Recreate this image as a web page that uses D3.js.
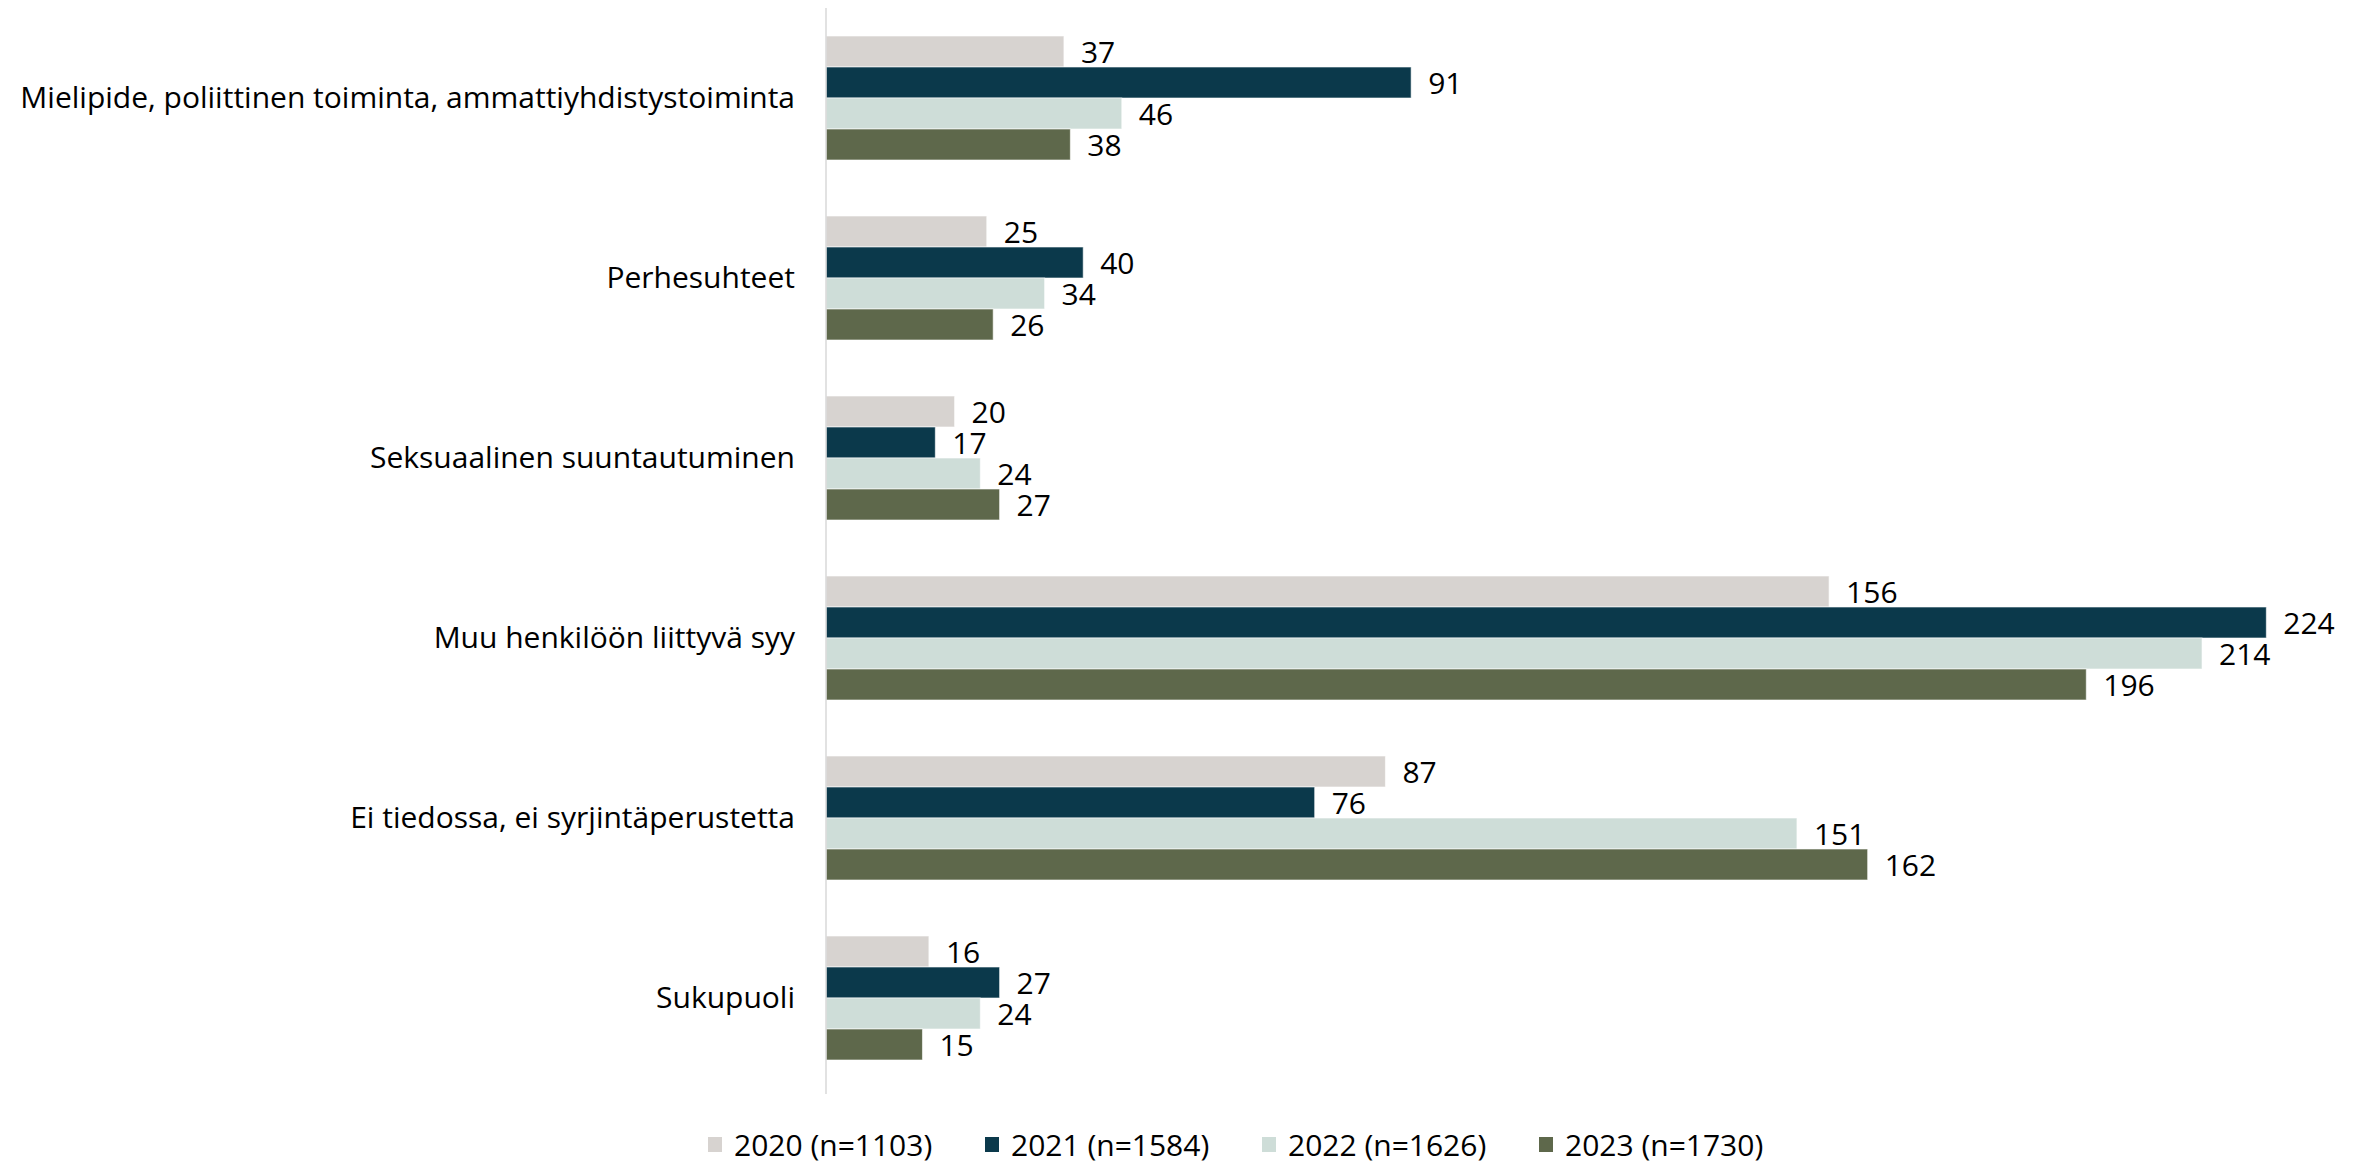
<!DOCTYPE html>
<html>
<head>
<meta charset="utf-8">
<script src="https://cdn.jsdelivr.net/npm/d3@7"></script>
<style>
  html, body { margin: 0; padding: 0; background: #ffffff; }
  svg { display: block; }
  text { font-family: "Open Sans", "Noto Sans", sans-serif; fill: #000000; }
</style>
</head>
<body>
<svg id="chart" width="2361" height="1164"></svg>
<script>
const categories = [
  "Mielipide, poliittinen toiminta, ammattiyhdistystoiminta",
  "Perhesuhteet",
  "Seksuaalinen suuntautuminen",
  "Muu henkilöön liittyvä syy",
  "Ei tiedossa, ei syrjintäperustetta",
  "Sukupuoli"
];
const seriesNames = ["2020 (n=1103)", "2021 (n=1584)", "2022 (n=1626)", "2023 (n=1730)"];
const values2020 = [37, 25, 20, 156, 87, 16];
const values2021 = [91, 40, 17, 224, 76, 27];
const values2022 = [46, 34, 24, 214, 151, 24];
const values2023 = [38, 26, 27, 196, 162, 15];
const seriesColors = ["#D7D3D0", "#0B394B", "#CEDDD8", "#5E684B"];

const seriesValues = [values2020, values2021, values2022, values2023];

const svg = d3.select("#chart");
const fontSize = 30;

const x = d3.scaleLinear().domain([0, 240]).range([826, 826 + 240 * 6.43]);
const y = d3.scaleBand().domain(categories).range([8, 1088]).paddingInner(0).paddingOuter(0);
const bandH = y.bandwidth();
const barH = 31;
const yInner = d3.scaleBand().domain(d3.range(seriesNames.length))
  .range([(bandH - barH * 4) / 2, (bandH + barH * 4) / 2]);

// bars
const groups = svg.selectAll("g.cat")
  .data(categories)
  .join("g")
  .attr("class", "cat")
  .attr("transform", d => `translate(0,${y(d)})`);

groups.each(function(cat, ci) {
  const g = d3.select(this);
  const rows = seriesValues.map((vals, si) => ({ si, v: vals[ci] }));
  g.selectAll("rect")
    .data(rows)
    .join("rect")
    .attr("x", x(0))
    .attr("y", d => yInner(d.si))
    .attr("width", d => x(d.v) - x(0))
    .attr("height", yInner.bandwidth())
    .attr("fill", d => seriesColors[d.si])
    .attr("stroke", "#ffffff")
    .attr("stroke-opacity", 0.6)
    .attr("stroke-width", 1);
  g.selectAll("text.val")
    .data(rows)
    .join("text")
    .attr("class", "val")
    .attr("x", d => x(d.v) + 17)
    .attr("y", d => yInner(d.si) + yInner.bandwidth() / 2)
    .attr("dominant-baseline", "central")
    .attr("font-size", fontSize)
    .text(d => d.v);
});

// category axis
const yAxis = d3.axisLeft(y).tickSize(0).tickPadding(31);
const axisG = svg.append("g")
  .attr("transform", `translate(${x(0)},0)`)
  .call(yAxis);
axisG.select(".domain")
  .attr("d", `M0,8V1094`)
  .attr("stroke", "#D9D9D9").attr("stroke-width", 1.5);
axisG.selectAll(".tick text")
  .attr("font-size", fontSize)
  .attr("fill", "#000")
  .style("font-family", "'Open Sans', 'Noto Sans', sans-serif");

// legend
const legendX = d3.scaleLinear().domain([0, 1]).range([708, 985]);
const legend = svg.append("g").selectAll("g")
  .data(seriesNames)
  .join("g")
  .attr("transform", (d, i) => `translate(${legendX(i)},1137)`);
legend.append("rect")
  .attr("width", 14).attr("height", 15)
  .attr("fill", (d, i) => seriesColors[i]);
legend.append("text")
  .attr("x", 26).attr("y", 7)
  .attr("dominant-baseline", "central")
  .attr("font-size", fontSize)
  .text(d => d);
</script>
</body>
</html>
